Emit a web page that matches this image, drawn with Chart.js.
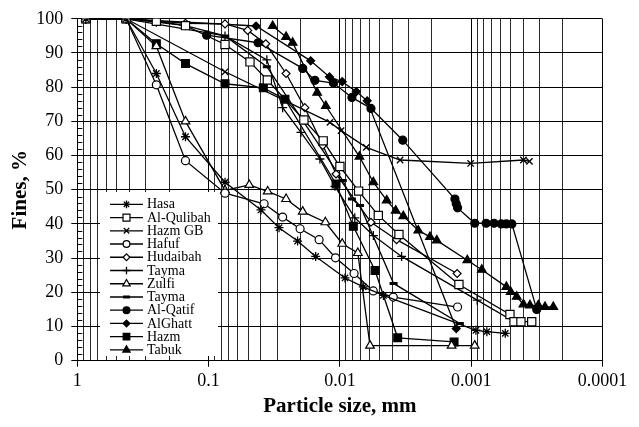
<!DOCTYPE html>
<html>
<head>
<meta charset="utf-8">
<script src="https://cdn.jsdelivr.net/npm/chart.js@4.4.0/dist/chart.umd.min.js"></script>
<style>
  body { margin: 0; background: #fff; }
  #wrap { width: 639px; height: 427px; }
</style>
</head>
<body>
<div id="wrap"><canvas id="grading"></canvas></div>
<script>
// Particle size (mm) and percent fines for each soil
const hasaX = [0.86, 0.425, 0.25, 0.15, 0.075, 0.0399, 0.0291, 0.021, 0.0153, 0.00914, 0.00664, 0.00466, 0.00092, 0.00076, 0.00055];
const hasaY = [100, 100, 84, 65.5, 52.2, 44.1, 38.9, 35, 30.5, 24.2, 21.6, 19.1, 8.9, 8.5, 8];

const qulibahX = [0.86, 0.425, 0.25, 0.15, 0.075, 0.0484, 0.0357, 0.0188, 0.0134, 0.01, 0.0072, 0.0051, 0.00355, 0.00124, 0.000507, 0.000472, 0.000418, 0.000346];
const qulibahY = [100, 100, 99.3, 98, 92.5, 87.4, 82.1, 70.4, 64.3, 56.8, 49.6, 42.5, 36.9, 22.3, 13.5, 11.4, 11.4, 11.4];

const hazmGbX = [0.86, 0.425, 0.075, 0.0119, 0.0098, 0.0063, 0.00348, 0.00101, 0.0004, 0.00036];
const hazmGbY = [100, 100, 84.5, 69.7, 67.3, 62.4, 58.7, 57.7, 58.7, 58.3];

const hafufX = [0.86, 0.425, 0.25, 0.15, 0.075, 0.0378, 0.0273, 0.0201, 0.0144, 0.0108, 0.0078, 0.00557, 0.00392, 0.00127];
const hafufY = [100, 100, 80.7, 58.5, 49, 45.9, 42, 38.6, 35.4, 30.1, 25.5, 20.4, 18.6, 15.7];

const hudaibahX = [0.86, 0.425, 0.25, 0.15, 0.075, 0.0504, 0.0367, 0.0257, 0.0185, 0.0135, 0.0107, 0.0058, 0.0037, 0.00128];
const hudaibahY = [100, 100, 99.3, 98.7, 98.5, 96.6, 92.7, 84, 74, 63, 54.6, 40.5, 35.4, 25.5];

const taymaX = [0.86, 0.425, 0.25, 0.15, 0.075, 0.036, 0.0273, 0.0198, 0.0142, 0.0109, 0.0077, 0.00556, 0.00339, 0.0009, 0.00047];
const taymaY = [100, 100, 99, 98, 95, 88, 74, 66.8, 59, 51, 41.8, 36.6, 30.5, 17.7, 11.4];

const zulfiX = [0.86, 0.425, 0.25, 0.15, 0.075, 0.049, 0.0355, 0.0257, 0.0192, 0.0129, 0.0096, 0.0073, 0.0059, 0.00141, 0.00094];
const zulfiY = [100, 100, 92, 70, 49.8, 51.4, 49.5, 47.3, 43.6, 40.5, 34.2, 31.5, 4.4, 4.4, 4.4];

const tayma2X = [0.86, 0.425, 0.075, 0.036, 0.0095, 0.0081, 0.00703, 0.0039, 0.00122];
const tayma2Y = [100, 100, 95, 86, 52.7, 47.3, 45.4, 22.6, 10.9];

const qatifX = [0.1035, 0.042, 0.0192, 0.0155, 0.0112, 0.0081, 0.0058, 0.00332, 0.00133, 0.0013, 0.00127, 0.00094, 0.00077, 0.00067, 0.00059, 0.00054, 0.00049, 0.000317];
const qatifY = [95.2, 93, 85.5, 82, 81.2, 77, 73.8, 64.5, 47.3, 45.9, 44.7, 40.2, 40.2, 40.2, 40, 40, 40, 15];

const ghattX = [0.86, 0.425, 0.0435, 0.0167, 0.012, 0.0096, 0.0075, 0.0062, 0.0013];
const ghattY = [100, 100, 97.9, 87.7, 83, 81.6, 78.7, 76, 9.4];

const hazmX = [0.86, 0.425, 0.25, 0.15, 0.075, 0.0383, 0.0262, 0.0107, 0.0079, 0.0054, 0.00363, 0.00135];
const hazmY = [100, 100, 92.7, 86.9, 81, 79.8, 76.5, 51.7, 39.3, 26.4, 6.7, 5.5];

const tabukX = [0.0325, 0.0257, 0.0229, 0.0149, 0.0128, 0.0071, 0.00556, 0.0044, 0.00376, 0.00329, 0.00253, 0.00206, 0.00183, 0.00107, 0.00083, 0.00054, 0.0005, 0.00045, 0.0004, 0.000357, 0.000308, 0.000274, 0.000237];
const tabukY = [97.9, 94.7, 93, 78.4, 74.5, 59.7, 52.2, 46.9, 43.9, 42.3, 38.1, 36.2, 35.2, 29.4, 26.6, 21.6, 20.1, 18.7, 16.5, 16.2, 16.2, 15.7, 15.7];

// axis labels
const sizeTicks = [1, 0.1, 0.01, 0.001, 0.0001];
const sizeTickLabels = ['1', '0.1', '0.01', '0.001', '0.0001'];
const finesTicks = [0, 10, 20, 30, 40, 50, 60, 70, 80, 90, 100];

const SERIF = "'Liberation Serif', 'Times New Roman', serif";

function pts(xs, ys) {
    return xs.map((x, i) => ({ x: x, y: ys[i] }));
}

function series(label, xs, ys, style, filled, radius, bw) {
    return {
        label: label,
        data: pts(xs, ys),
        showLine: true,
        borderColor: '#000',
        borderWidth: 1.3,
        pointStyle: style,
        pointRadius: radius,
        pointBorderColor: '#000',
        pointBackgroundColor: filled ? '#000' : '#fff',
        pointBorderWidth: bw || 1.2
    };
}

const datasets = [
    series('Hasa', hasaX, hasaY, 'star', false, 4.5, 1.3),
    series('Al-Qulibah', qulibahX, qulibahY, 'rect', false, 5.8),
    series('Hazm GB', hazmGbX, hazmGbY, 'crossRot', false, 4.5, 1.3),
    series('Hafuf', hafufX, hafufY, 'circle', false, 4),
    series('Hudaibah', hudaibahX, hudaibahY, 'rectRot', false, 4),
    series('Tayma', taymaX, taymaY, 'cross', false, 4.5, 1.3),
    series('Zulfi', zulfiX, zulfiY, 'triangle', false, 5),
    series('Tayma', tayma2X, tayma2Y, 'line', false, 4, 3),
    series('Al-Qatif', qatifX, qatifY, 'circle', true, 4),
    series('AlGhatt', ghattX, ghattY, 'rectRot', true, 4),
    series('Hazm', hazmX, hazmY, 'rect', true, 5.5),
    series('Tabuk', tabukX, tabukY, 'triangle', true, 5)
];

// vertical grid: every 1..9 x 10^n between 0.0001 and 1
const gridValues = [];
for (let e = 0; e >= -4; e--) {
    for (let k = 1; k <= 9; k++) {
        const v = +(k * Math.pow(10, e)).toPrecision(6);
        if (v <= 1 && v >= 0.0001) gridValues.push(v);
    }
}

function isDecade(v) {
    return sizeTicks.some(t => Math.abs(t - v) / t < 1e-6);
}

// inner minor ticks on the fines axis + legend box inside the plot
const extrasPlugin = {
    id: 'extras',
    afterDatasetsDraw(chart) {
        const ctx = chart.ctx;
        const y = chart.scales.y;
        const left = chart.chartArea.left;
        ctx.save();
        ctx.strokeStyle = '#000';
        ctx.lineWidth = 1;
        for (let v = 2; v < 100; v += 2) {
            if (v % 10 === 0) continue;
            const py = Math.round(y.getPixelForValue(v)) + 0.5;
            ctx.beginPath();
            ctx.moveTo(left, py);
            ctx.lineTo(left + 5, py);
            ctx.stroke();
        }

        // legend
        const bx = 100, by = 192, bw = 118, bh = 164;
        ctx.fillStyle = '#fff';
        ctx.fillRect(bx, by, bw, bh);
        ctx.font = '14px ' + SERIF;
        ctx.textBaseline = 'middle';
        chart.data.datasets.forEach((ds, i) => {
            const ry = 204.3 + i * 13.24;
            ctx.strokeStyle = '#000';
            ctx.lineWidth = 1.3;
            ctx.beginPath();
            ctx.moveTo(110, ry);
            ctx.lineTo(143, ry);
            ctx.stroke();
            ctx.fillStyle = ds.pointBackgroundColor;
            ctx.strokeStyle = '#000';
            ctx.lineWidth = ds.pointBorderWidth;
            Chart.helpers.drawPoint(ctx, {
                pointStyle: ds.pointStyle,
                radius: ds.pointRadius * 0.85,
                rotation: 0,
                borderWidth: ds.pointBorderWidth
            }, 126.5, ry);
            ctx.fillStyle = '#000';
            ctx.fillText(ds.label, 147, ry + 0.5);
        });
        ctx.restore();
    }
};

new Chart(document.getElementById('grading'), {
    type: 'scatter',
    data: { datasets: datasets },
    plugins: [extrasPlugin],
    options: {
        responsive: true,
        maintainAspectRatio: false,
        animation: false,
        layout: { padding: { top: 17.7, right: 36.5, left: 0, bottom: 0 } },
        plugins: {
            legend: { display: false },
            tooltip: { enabled: false }
        },
        scales: {
            x: {
                type: 'logarithmic',
                reverse: true,
                min: 0.0001,
                max: 1,
                afterBuildTicks: (scale) => {
                    scale.ticks = gridValues.map(v => ({ value: v, major: isDecade(v) }));
                },
                afterFit: (scale) => { scale.height = 66.3; },
                ticks: {
                    autoSkip: false,
                    maxRotation: 0,
                    padding: 4,
                    color: '#000',
                    font: { family: SERIF, size: 18 },
                    callback: (v) => {
                        const i = sizeTicks.findIndex(t => Math.abs(t - v) / t < 1e-6);
                        return i >= 0 ? sizeTickLabels[i] : '';
                    }
                },
                grid: {
                    color: (c) => (c.tick && c.tick.major) ? '#000' : '#2a2a2a',
                    tickColor: (c) => (c.tick && c.tick.major) ? '#000' : 'rgba(0,0,0,0)',
                    tickLength: 6,
                    lineWidth: 1
                },
                border: { color: '#000', width: 1 },
                title: {
                    display: true,
                    text: 'Particle size, mm',
                    color: '#000',
                    font: { family: SERIF, size: 21, weight: 'bold' },
                    padding: { top: 0, bottom: 8 }
                }
            },
            y: {
                min: 0,
                max: 100,
                afterBuildTicks: (scale) => {
                    scale.ticks = finesTicks.map(v => ({ value: v }));
                },
                afterFit: (scale) => { scale.width = 77.3; },
                ticks: {
                    autoSkip: false,
                    padding: 8,
                    color: '#000',
                    font: { family: SERIF, size: 18 }
                },
                grid: {
                    color: '#000',
                    tickLength: 6,
                    lineWidth: 1
                },
                border: { color: '#000', width: 1 },
                title: {
                    display: true,
                    text: 'Fines, %',
                    color: '#000',
                    font: { family: SERIF, size: 21, weight: 'bold' },
                    padding: { top: 8, bottom: 0 }
                }
            }
        }
    }
});
</script>
</body>
</html>
